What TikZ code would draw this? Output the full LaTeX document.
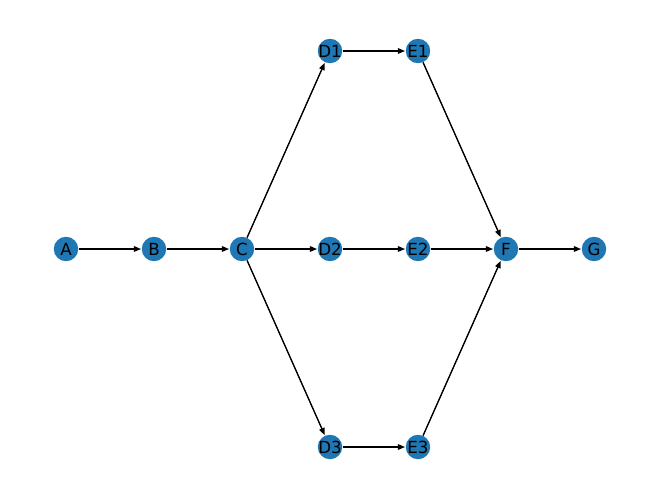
\documentclass[tikz,border=0pt]{standalone}
\usepackage{fontspec}
\setmainfont{DejaVu Sans}
\usetikzlibrary{arrows.meta}
\definecolor{nxblue}{HTML}{1F77B4}
\begin{document}
\begin{tikzpicture}[x=0.72pt,y=-0.72pt,
  vtx/.style={circle,fill=nxblue,draw=none,inner sep=0pt,minimum size=17.6pt,
    label={[font=\fontsize{12}{14}\selectfont,text=black,inner sep=0pt]center:#1}},
  edge/.style={draw=black,line width=1pt,-{Triangle[length=5.2pt,width=4pt]},shorten >=0.3pt}]
\useasboundingbox (0,0) rectangle (660,499);
\node[vtx=A]  (A)  at (66,249) {};
\node[vtx=B]  (B)  at (154,249) {};
\node[vtx=C]  (C)  at (242,249) {};
\node[vtx=D1] (D1) at (330,51) {};
\node[vtx=E1] (E1) at (418,51) {};
\node[vtx=D2] (D2) at (330,249) {};
\node[vtx=E2] (E2) at (418,249) {};
\node[vtx=F]  (F)  at (506,249) {};
\node[vtx=G]  (G)  at (594,249) {};
\node[vtx=D3] (D3) at (330,447) {};
\node[vtx=E3] (E3) at (418,447) {};
\draw[edge] (A) -- (B);
\draw[edge] (B) -- (C);
\draw[edge] (C) -- (D1);
\draw[edge] (C) -- (D2);
\draw[edge] (C) -- (D3);
\draw[edge] (D1) -- (E1);
\draw[edge] (D2) -- (E2);
\draw[edge] (D3) -- (E3);
\draw[edge] (E1) -- (F);
\draw[edge] (E2) -- (F);
\draw[edge] (E3) -- (F);
\draw[edge] (F) -- (G);
\end{tikzpicture}
\end{document}
